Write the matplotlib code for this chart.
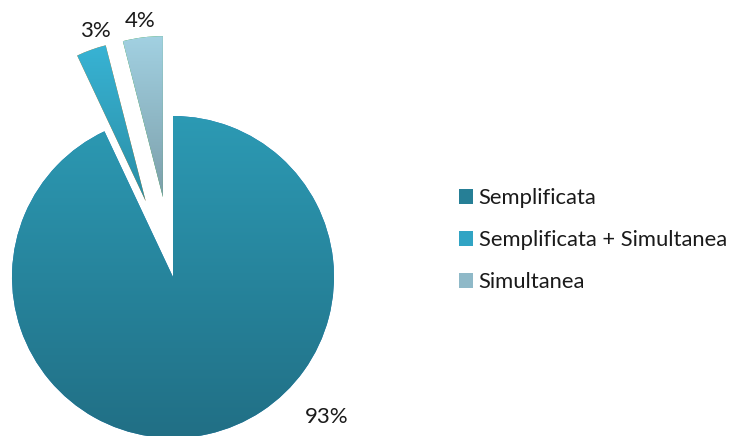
import matplotlib.pyplot as plt
import numpy as np
from matplotlib.colors import to_rgb
from matplotlib.patches import Patch

# Data
categories = ["Semplificata", "Semplificata + Simultanea", "Simultanea"]
shares = [93, 3, 4]
pct_labels = ["93%", "3%", "4%"]

# vertical gradient per slice (top colour, bottom colour)
top_colors = ["#2c9ab4", "#38b3d4", "#a2d1e2"]
bottom_colors = ["#216f85", "#2a8ea5", "#7c9faa"]
legend_colors = ["#267f96", "#31a4c4", "#8fb9c8"]

plt.rcParams["font.family"] = ["Lato", "DejaVu Sans"]

fig = plt.figure(figsize=(7.31, 4.36), dpi=100)
ax = fig.add_axes([0, 0, 1, 1])

# pixel-like data coordinates, pie centre and radius
radius = 161
wedges, _ = ax.pie(
    shares,
    center=(173, 159),
    radius=radius,
    startangle=90,
    counterclock=False,
    explode=[0, 0.5 * radius, 0.5 * radius],
    frame=True,
    wedgeprops=dict(linewidth=0),
)

for w, c_top, c_bot in zip(wedges, top_colors, bottom_colors):
    ext = w.get_path().get_extents()
    t = np.linspace(0, 1, 256)[:, None]
    grad = (1 - t) * np.array(to_rgb(c_top)) + t * np.array(to_rgb(c_bot))
    grad = grad[:, None, :]
    im = ax.imshow(grad, extent=[ext.x0, ext.x1, ext.y0, ext.y1],
                   origin="upper", aspect="auto", zorder=w.get_zorder() + 0.1,
                   interpolation="bilinear")
    im.set_clip_path(w)

# percentage labels
label_pos = [(327, 19), (95, 405), (140, 415)]
for txt, (x, y) in zip(pct_labels, label_pos):
    ax.text(x, y, txt, ha="center", va="center", fontsize=16, color="#1a1a1a")

handles = [Patch(facecolor=c, edgecolor="none") for c in legend_colors]
leg = ax.legend(handles, categories, loc="center left",
                bbox_to_anchor=(448 / 731, 1 - 240 / 436),
                bbox_transform=fig.transFigure, frameon=False,
                fontsize=15.8, handlelength=0.65, handleheight=0.65,
                handletextpad=0.25, labelspacing=1.0, borderpad=0)
for t in leg.get_texts():
    t.set_color("#1a1a1a")

ax.set_xlim(0, 731)
ax.set_ylim(0, 436)
ax.axis("off")

fig.savefig("out.png", dpi=100)
